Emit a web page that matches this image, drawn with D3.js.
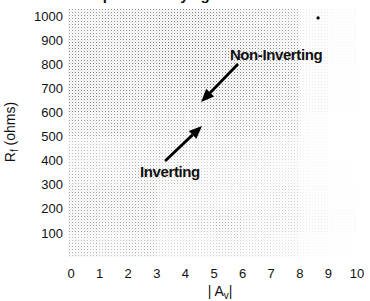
<!DOCTYPE html>
<html>
<head>
<meta charset="utf-8">
<script src="https://cdn.jsdelivr.net/npm/d3@7"></script>
<style>
	body { margin: 0; background: #fff; }
	text { font-family: "Liberation Sans", Arial, sans-serif; fill: #111; }
</style>
</head>
<body>
<div id="plot"></div>
<script>
var w = 370;
var h = 301;

// axis ticks
var xTicks = [0, 1, 2, 3, 4, 5, 6, 7, 8, 9, 10];
var yTicks = [100, 200, 300, 400, 500, 600, 700, 800, 900, 1000];

// shading density of the scanned halftone, one row per 100 ohm band (top to bottom),
// one value per unit of |Av| (0-1, 1-2, ... 9-10)
var rowBands = [1000, 900, 800, 700, 600, 500, 400, 300, 200, 100];
var shade900 = [0.50, 0.55, 0.55, 0.60, 0.60, 0.55, 0.50, 0.45, 0.10, 0.05];
var shade800 = [0.60, 0.55, 0.60, 0.65, 0.65, 0.60, 0.55, 0.50, 0.10, 0.05];
var shade700 = [0.60, 0.60, 0.55, 0.60, 0.65, 0.60, 0.55, 0.50, 0.10, 0.03];
var shade600 = [0.60, 0.55, 0.55, 0.50, 0.50, 0.55, 0.50, 0.45, 0.10, 0.03];
var shade500 = [0.45, 0.50, 0.45, 0.45, 0.35, 0.45, 0.40, 0.35, 0.05, 0.00];
var shade400 = [0.30, 0.30, 0.35, 0.35, 0.30, 0.30, 0.25, 0.20, 0.05, 0.00];
var shade300 = [0.35, 0.35, 0.40, 0.30, 0.25, 0.25, 0.20, 0.15, 0.05, 0.02];
var shade200 = [0.45, 0.45, 0.45, 0.25, 0.25, 0.20, 0.20, 0.25, 0.08, 0.03];
var shade100 = [0.45, 0.40, 0.45, 0.30, 0.30, 0.35, 0.25, 0.25, 0.10, 0.05];
var shade0   = [0.35, 0.30, 0.35, 0.20, 0.20, 0.25, 0.20, 0.15, 0.05, 0.02];
var shadeRows = [shade900, shade800, shade700, shade600, shade500, shade400, shade300, shade200, shade100, shade0];

// annotations: label, label position, arrow tail, arrow tip  (|Av|, ohms)
var labels = ["Non-Inverting", "Inverting"];
var labelPos = [[7.17, 817], [3.46, 332]];
var arrowTail = [[5.84, 801], [3.29, 398]];
var arrowTip = [[4.55, 643], [4.58, 544]];
var marker = [8.64, 992];

var xScale = d3.scaleLinear()
			.domain([0, 10])
			.range([71, 357]);

var yScale = d3.scaleLinear()
			.domain([0, 1000])
			.range([257, 16]);

var svg = d3.select("#plot").append("svg")
	.attr("width", w).attr("height", h)
	.style("display", "block");

var defs = svg.append("defs");
var pat = defs.append("pattern")
	.attr("id", "halftone")
	.attr("patternUnits", "userSpaceOnUse")
	.attr("width", 3)
	.attr("height", 3);
pat.append("rect").attr("width", 3).attr("height", 3).attr("fill", "#f5f5f5");
pat.append("rect").attr("x", 0).attr("y", 0).attr("width", 1).attr("height", 1).attr("fill", "#444");
pat.append("rect").attr("x", 1.5).attr("y", 1.5).attr("width", 1).attr("height", 1).attr("fill", "#c8c8c8");

// halftone cells
var cells = [];
shadeRows.forEach(function(row, i) {
	row.forEach(function(d, j) {
		cells.push({ r: rowBands[i], v: j, d: d });
	});
});

svg.append("g")
	.selectAll("rect")
	.data(cells)
	.enter()
	.append("rect")
	.attr("x", function(d) { return xScale(d.v === 0 ? -0.1 : d.v); })
	.attr("y", function(d) { return yScale(d.r === 1000 ? 1030 : d.r); })
	.attr("width", function(d) { return xScale(d.v + 1) - xScale(d.v === 0 ? -0.1 : d.v); })
	.attr("height", function(d) { return yScale(d.r - 100) - yScale(d.r === 1000 ? 1030 : d.r); })
	.attr("fill", "url(#halftone)")
	.attr("opacity", function(d) { return Math.min(1, d.d * 1.1); });

// title (cut off by the top edge, only descenders show)
var title = svg.append("text")
	.attr("x", 91)
	.attr("y", -0.5)
	.attr("font-size", 15)
	.attr("font-weight", "bold");
title.append("tspan").text("Optimal Rf by");
title.append("tspan").attr("dx", 12).text("gain");

// tick labels
svg.append("g")
	.selectAll("text")
	.data(yTicks)
	.enter()
	.append("text")
	.attr("x", 63)
	.attr("y", function(d) { return yScale(d); })
	.attr("dy", "0.36em")
	.attr("text-anchor", "end")
	.attr("font-size", 13)
	.text(function(d) { return d; });

svg.append("g")
	.selectAll("text")
	.data(xTicks)
	.enter()
	.append("text")
	.attr("x", function(d) { return xScale(d); })
	.attr("y", 278)
	.attr("text-anchor", "middle")
	.attr("font-size", 13)
	.text(function(d) { return d; });

// axis titles
var xt = svg.append("text")
	.attr("x", 220)
	.attr("y", 296)
	.attr("text-anchor", "middle")
	.attr("font-size", 14);
xt.append("tspan").text("| A");
xt.append("tspan").attr("font-size", 10).attr("dy", 3).text("v");
xt.append("tspan").attr("dy", -3).text("|");

var yt = svg.append("text")
	.attr("transform", "translate(15,132) rotate(-90)")
	.attr("text-anchor", "middle")
	.attr("font-size", 14);
yt.append("tspan").text("R");
yt.append("tspan").attr("font-size", 10).attr("dy", 3).text("f");
yt.append("tspan").attr("dy", -3).text(" (ohms)");

// arrows
labels.forEach(function(lab, i) {
	var x1 = xScale(arrowTail[i][0]), y1 = yScale(arrowTail[i][1]);
	var x2 = xScale(arrowTip[i][0]), y2 = yScale(arrowTip[i][1]);
	var a = Math.atan2(y2 - y1, x2 - x1);
	var len = 13, half = 5.5;
	var bx = x2 - len * Math.cos(a), by = y2 - len * Math.sin(a);
	svg.append("line")
		.attr("x1", x1).attr("y1", y1)
		.attr("x2", bx).attr("y2", by)
		.attr("stroke", "#000")
		.attr("stroke-width", 2.8);
	svg.append("path")
		.attr("d", "M" + x2 + "," + y2 +
			"L" + (bx + half * Math.sin(a)) + "," + (by - half * Math.cos(a)) +
			"L" + (bx - half * Math.sin(a)) + "," + (by + half * Math.cos(a)) + "Z")
		.attr("fill", "#000");

	svg.append("text")
		.attr("x", xScale(labelPos[i][0]))
		.attr("y", yScale(labelPos[i][1]))
		.attr("text-anchor", "middle")
		.attr("font-size", 15)
		.attr("font-weight", "bold")
		.attr("letter-spacing", -0.4)
		.text(lab);
});

svg.append("circle")
	.attr("cx", xScale(marker[0]))
	.attr("cy", yScale(marker[1]))
	.attr("r", 1.6)
	.attr("fill", "#000");
</script>
</body>
</html>
